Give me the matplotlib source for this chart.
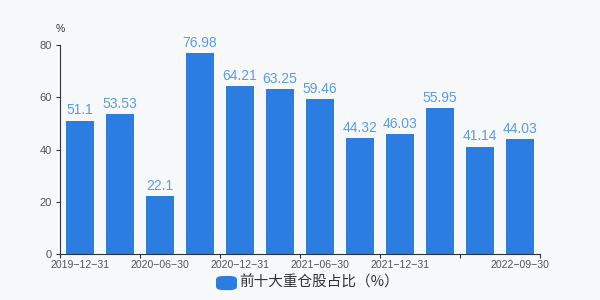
import matplotlib
matplotlib.use("Agg")
from matplotlib import pyplot
from matplotlib.patches import FancyBboxPatch
import numpy

pyplot.rcParams['font.family'] = ['Liberation Sans', 'Noto Sans CJK SC', 'DejaVu Sans']

dates = ['2019-12-31', '2020-03-31', '2020-06-30', '2020-09-30',
         '2020-12-31', '2021-03-31', '2021-06-30', '2021-09-30',
         '2021-12-31', '2022-03-31', '2022-06-30', '2022-09-30']
values = [51.1, 53.53, 22.1, 76.98, 64.21, 63.25, 59.46, 44.32, 46.03, 55.95, 41.14, 44.03]
labels = ['51.1', '53.53', '22.1', '76.98', '64.21', '63.25', '59.46', '44.32',
          '46.03', '55.95', '41.14', '44.03']
shown = [0, 2, 4, 6, 8, 11]
series_name = '前十大重仓股占比（%）'

bg = '#f7f8fa'
bar_color = '#2b7de1'
label_color = '#5a9be6'
axis_color = '#333333'

fig = pyplot.figure(figsize=(6, 3), dpi=100, facecolor=bg)
ax = fig.add_axes([0.1, 0.153, 0.8, 0.697])
ax.set_facecolor(bg)

x = numpy.arange(len(values))
ax.bar(x, values, width=0.7, color=bar_color, zorder=2)
for xi, v, s in zip(x, values, labels):
    ax.text(xi, v + 1.2, s, ha='center', va='bottom', fontsize=10, color=label_color)

ax.set_xlim(-0.5, len(values) - 0.5)
ax.set_ylim(0, 80)
ax.set_yticks([0, 20, 40, 60, 80])
ax.tick_params(axis='y', labelsize=8, colors='#555555', length=3, width=0.8, pad=3)
ax.tick_params(axis='y', color=axis_color)

ax.set_xticks([x[i] for i in shown])
ax.set_xticklabels([dates[i].replace('-', '\u2212') for i in shown])
ax.tick_params(axis='x', which='major', length=0, labelsize=7.6, colors='#555555', pad=4)
ax.set_xticks(numpy.arange(-0.5, len(values), 2), minor=True)
ax.tick_params(axis='x', which='minor', length=3, width=0.8, color=axis_color)

for side in ['top', 'right']:
    ax.spines[side].set_visible(False)
for side in ['left', 'bottom']:
    ax.spines[side].set_color(axis_color)
    ax.spines[side].set_linewidth(0.8)

fig.text(0.092, 0.905, '%', fontsize=7.5, color='#333333', ha='left', va='center')

# legend
fig.patches.append(FancyBboxPatch((0.36, 0.033), 0.035, 0.047, boxstyle='round,pad=0,rounding_size=0.012',
                                  transform=fig.transFigure, facecolor=bar_color, edgecolor='none'))
fig.text(0.398, 0.057, series_name, fontsize=10.5, color='#333333', ha='left', va='center',
         family=['Noto Sans CJK SC', 'DejaVu Sans'])

pyplot.savefig('out.png', dpi=100, facecolor=bg)
